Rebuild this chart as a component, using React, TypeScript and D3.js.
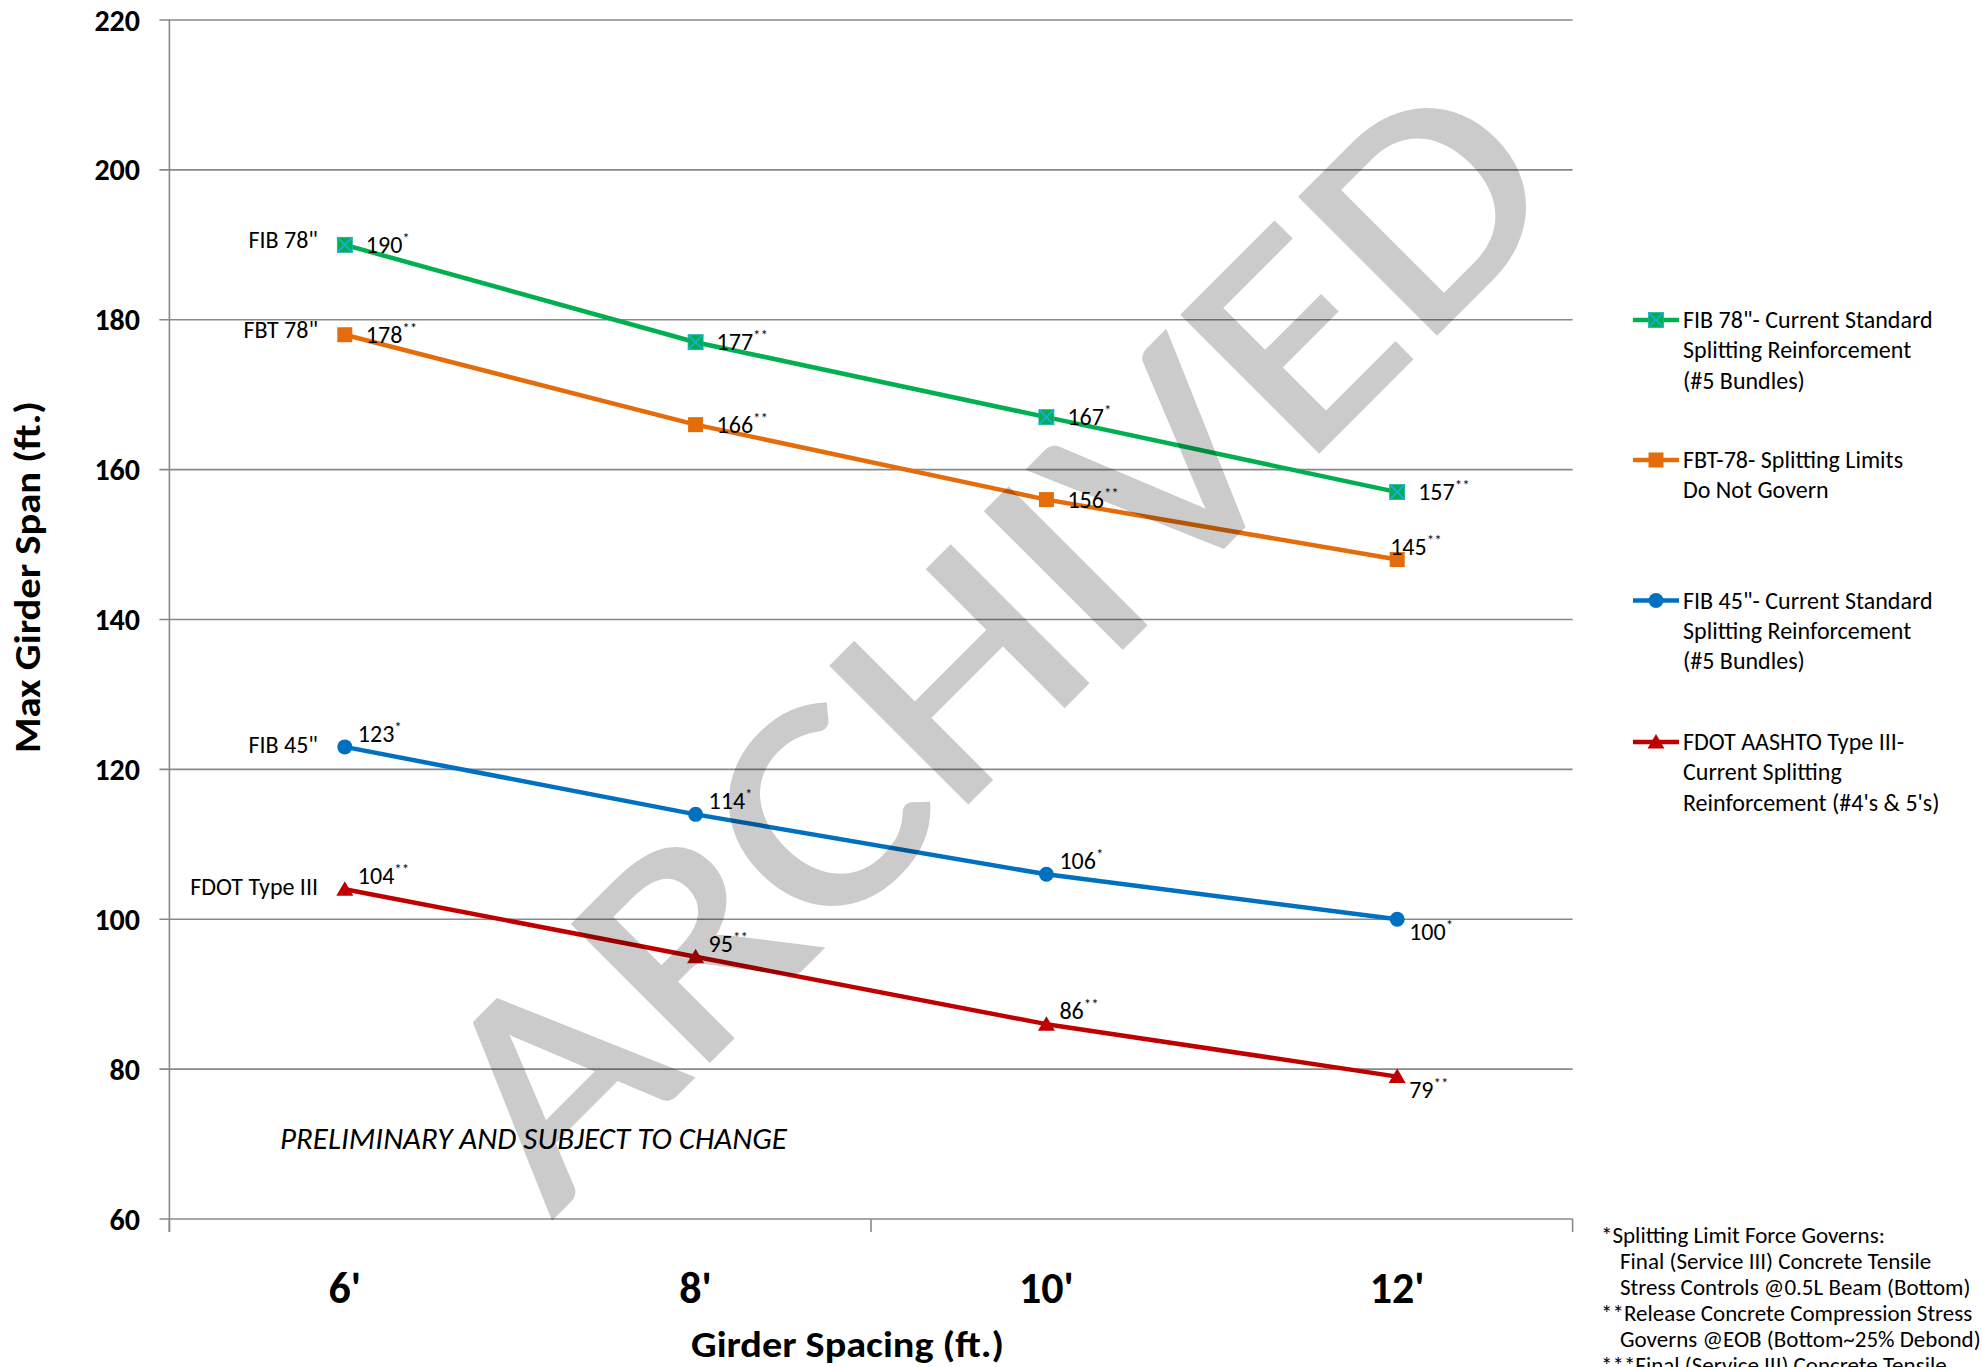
import React from 'react';
import * as d3 from 'd3';

// ---------- data ----------
const categories = ["6'", "8'", "10'", "12'"];
const yTicks = [60, 80, 100, 120, 140, 160, 180, 200, 220];

const fib78 = [190, 177, 167, 157];
const fbt78 = [178, 166, 156, 148];
const fib45 = [123, 114, 106, 100];
const fdot3 = [104, 95, 86, 79];

const fib78Labels = ['190', '177', '167', '157'];
const fib78Notes = ['*', '**', '*', '**'];
const fbt78Labels = ['178', '166', '156', '145'];
const fbt78Notes = ['**', '**', '**', '**'];
const fib45Labels = ['123', '114', '106', '100'];
const fib45Notes = ['*', '*', '*', '*'];
const fdot3Labels = ['104', '95', '86', '79'];
const fdot3Notes = ['**', '**', '**', '**'];

const shortNames = ['FIB 78"', 'FBT 78"', 'FIB 45"', 'FDOT Type III'];
const legendNames = [
  ['FIB 78"- Current Standard', 'Splitting Reinforcement', '(#5 Bundles)'],
  ['FBT-78- Splitting Limits', 'Do Not Govern'],
  ['FIB 45"- Current Standard', 'Splitting Reinforcement', '(#5 Bundles)'],
  ['FDOT AASHTO Type III-', 'Current Splitting', "Reinforcement (#4's & 5's)"],
];
const footnotes = [
  '*Splitting Limit Force Governs:',
  '   Final (Service III) Concrete Tensile',
  '   Stress Controls @0.5L Beam (Bottom)',
  '**Release Concrete Compression Stress',
  '   Governs @EOB (Bottom~25% Debond)',
  '***Final (Service III) Concrete Tensile',
];
const yTitle = 'Max Girder Span (ft.)';
const xTitle = 'Girder Spacing (ft.)';
const noteText = 'PRELIMINARY AND SUBJECT TO CHANGE';
const watermark = 'ARCHIVED';

// ---------- layout / style ----------
const W = 1982;
const H = 1367;
const FONT = 'Carlito, Lato, sans-serif';
const plot = { left: 169.4, right: 1572.6, top: 20, bottom: 1219 };

const labelOffsets: Record<string, [number, number]> = {
  right: [21, 8],
  aboveRight: [13, -5],
  belowRight: [12, 21],
  above: [-7, -5],
};

const series = [
  { values: fib78, labels: fib78Labels, notes: fib78Notes, color: '#00b050', marker: 'squareX',
    pos: ['right', 'right', 'right', 'right'] },
  { values: fbt78, labels: fbt78Labels, notes: fbt78Notes, color: '#e46c0a', marker: 'square',
    pos: ['right', 'right', 'right', 'above'] },
  { values: fib45, labels: fib45Labels, notes: fib45Notes, color: '#0070c0', marker: 'circle',
    pos: ['aboveRight', 'aboveRight', 'aboveRight', 'belowRight'] },
  { values: fdot3, labels: fdot3Labels, notes: fdot3Notes, color: '#c00000', marker: 'triangle',
    pos: ['aboveRight', 'aboveRight', 'aboveRight', 'belowRight'] },
];

const legendRowY = [320, 460, 600.5, 742];

function Marker({ type, x, y, color }: { type: string; x: number; y: number; color: string }) {
  if (type === 'squareX') {
    const s = 7.5;
    return (
      <g>
        <rect x={x - s} y={y - s} width={2 * s} height={2 * s} fill={color} />
        <path d={`M${x - s},${y - s}L${x + s},${y + s}M${x - s},${y + s}L${x + s},${y - s}`}
          stroke="#1fa8e8" strokeWidth={1.6} />
        <rect x={x - s} y={y - s} width={2 * s} height={2 * s} fill="none" stroke="#1fb0b0" strokeWidth={0.8} />
      </g>
    );
  }
  if (type === 'square') {
    const s = 7.5;
    return <rect x={x - s} y={y - s} width={2 * s} height={2 * s} fill={color} />;
  }
  if (type === 'circle') {
    return <circle cx={x} cy={y} r={7.5} fill={color} />;
  }
  return <path d={`M${x},${y - 8}L${x + 8.5},${y + 6.5}L${x - 8.5},${y + 6.5}Z`} fill={color} />;
}

export default function App() {
  const x = d3.scaleBand<string>().domain(categories).range([plot.left, plot.right]).paddingInner(0).paddingOuter(0);
  const cx = (c: string) => (x(c) as number) + x.bandwidth() / 2;
  const y = d3.scaleLinear().domain([60, 220]).range([plot.bottom, plot.top]);
  const line = d3.line<number>().x((_, i) => cx(categories[i])).y((d) => y(d));

  const xTickPos = [plot.left, (x(categories[2]) as number), plot.right];
  const axisColor = '#898989';

  return (
    <svg width={W} height={H} style={{ position: 'absolute', left: 0, top: 0, display: 'block', background: '#fff' }}
      fontFamily={FONT}>
      <rect x={0} y={0} width={W} height={H} fill="#ffffff" />
      {/* gridlines */}
      {yTicks.map((t) => (
        <line key={t} x1={plot.left - 10} x2={plot.right} y1={y(t)} y2={y(t)} stroke={axisColor} strokeWidth={1.6} />
      ))}
      {/* y axis */}
      <line x1={plot.left} x2={plot.left} y1={plot.top} y2={plot.bottom + 13} stroke={axisColor} strokeWidth={1.6} />
      {xTickPos.map((p, i) => (
        <line key={i} x1={p} x2={p} y1={plot.bottom} y2={plot.bottom + 13} stroke={axisColor} strokeWidth={1.6} />
      ))}
      {/* y tick labels */}
      {yTicks.map((t) => (
        <text key={t} x={140} y={y(t) + 10.5} textAnchor="end" fontSize={30} fontWeight="bold" fill="#000">{t}</text>
      ))}
      {/* x tick labels */}
      {categories.map((c) => (
        <text key={c} x={cx(c)} y={1303} textAnchor="middle" fontSize={44} fontWeight="bold" fill="#000">{c}</text>
      ))}
      {/* axis titles */}
      <text transform={`translate(28,577) rotate(-90)`} textAnchor="middle" dominantBaseline="central"
        fontSize={36} fontWeight="bold" textLength={352} lengthAdjust="spacingAndGlyphs">{yTitle}</text>
      <text x={691} y={1357} fontSize={36} fontWeight="bold" textLength={313} lengthAdjust="spacingAndGlyphs">{xTitle}</text>

      {/* series lines */}
      {series.map((s, i) => (
        <path key={i} d={line(s.values) as string} fill="none" stroke={s.color} strokeWidth={4.5} strokeLinejoin="round" />
      ))}
      {/* markers */}
      {series.map((s, i) => (
        <g key={i}>
          {s.values.map((v, j) => (
            <Marker key={j} type={s.marker} x={cx(categories[j])} y={y(v)} color={s.color} />
          ))}
        </g>
      ))}
      {/* value labels */}
      {series.map((s, i) => (
        <g key={i}>
          {s.values.map((v, j) => {
            const [dx, dy] = labelOffsets[s.pos[j]];
            return (
              <text key={j} x={cx(categories[j]) + dx} y={y(v) + dy} fontSize={24} fill="#000">
                {s.labels[j]}
                <tspan fontSize={15} dy={-10}>{s.notes[j]}</tspan>
              </text>
            );
          })}
        </g>
      ))}
      {/* series short names */}
      {series.map((s, i) => (
        <text key={i} x={318} y={y(s.values[0]) + (i < 2 ? 3 : 6)} textAnchor="end" fontSize={24} fill="#000">
          {shortNames[i]}
        </text>
      ))}
      {/* preliminary note */}
      <text x={280} y={1149} fontSize={31} fontStyle="italic" fill="#000">{noteText}</text>

      {/* legend */}
      {series.map((s, i) => (
        <g key={i}>
          <line x1={1633} x2={1679} y1={legendRowY[i]} y2={legendRowY[i]} stroke={s.color} strokeWidth={4.5} />
          <Marker type={s.marker} x={1656} y={legendRowY[i]} color={s.color} />
          {legendNames[i].map((ln, k) => (
            <text key={k} x={1683} y={legendRowY[i] + 8 + k * 30.3} fontSize={24} fill="#000">{ln}</text>
          ))}
        </g>
      ))}

      {/* footnotes */}
      {footnotes.map((f, k) => (
        <text key={k} x={f.startsWith(' ') ? 1620 : 1601} y={1243 + k * 26} fontSize={23} fill="#000">{f.trim()}</text>
      ))}

      {/* watermark */}
      <g opacity={0.2}>
        <text transform="translate(552,1218) rotate(-45)" fontSize={300} fontWeight="normal" fill="#000"
          stroke="#000" strokeWidth={4} strokeLinejoin="miter" textLength={1440} lengthAdjust="spacingAndGlyphs">
          {watermark}
        </text>
      </g>
    </svg>
  );
}
